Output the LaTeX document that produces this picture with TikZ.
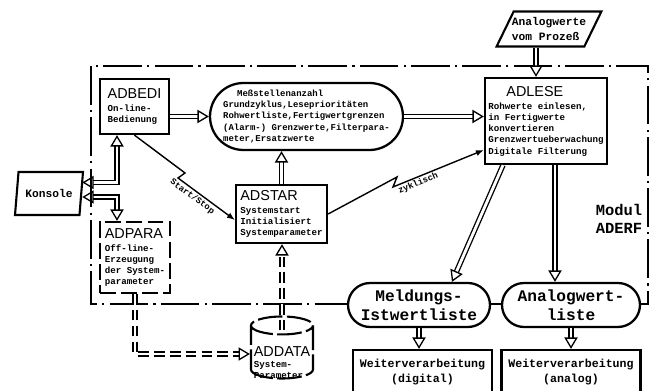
\documentclass[tikz,border=0pt]{standalone}
\usepackage{fontspec}
\setmainfont{Liberation Sans}
\setmonofont{Liberation Mono}
\usetikzlibrary{shapes.geometric, arrows.meta}

\newcommand{\tname}[1]{{\rmfamily\mdseries\fontsize{8.2}{9}\selectfont #1}}

\begin{document}
\begin{tikzpicture}[x=0.02cm, y=-0.02cm]
    \useasboundingbox (0,0) rectangle (650,391);
    % Define styles
    \tikzstyle{prog} = [rectangle, draw, line width=1.3pt, inner sep=1.5pt, align=left, font=\ttfamily\bfseries\fontsize{5.2}{6.4}\selectfont]
    \tikzstyle{params} = [rectangle, draw, line width=1.3pt, rounded corners=0.67cm, fill=white, align=left, minimum width=3.86cm, minimum height=1.34cm, font=\ttfamily\bfseries\fontsize{5.1}{6.5}\selectfont]
    \tikzstyle{liste} = [rectangle, draw, line width=1.3pt, rounded corners=0.44cm, fill=white, align=center, minimum height=0.88cm, font=\ttfamily\bfseries\fontsize{9.2}{10.8}\selectfont]
    \tikzstyle{store} = [cylinder, shape border rotate=90, aspect=0.3, draw, line width=1.2pt, dash pattern=on 14pt off 2.5pt, minimum height=1.24cm, minimum width=1.24cm, inner sep=1pt, font=\ttfamily\bfseries\fontsize{5.2}{6.4}\selectfont]
    \tikzstyle{extern} = [trapezium, draw, line width=1.2pt, trapezium stretches body, inner xsep=-1pt, align=left, font=\ttfamily\bfseries\fontsize{6.4}{8.5}\selectfont]
    \tikzstyle{result} = [rectangle, draw, line width=1.3pt, align=center, minimum width=2.78cm, minimum height=0.88cm, font=\ttfamily\bfseries\fontsize{6.6}{8.5}\selectfont]
    \tikzstyle{flow} = [double, double distance=1.6pt, line width=0.75pt, -{Triangle[open, length=6.5pt, width=7.5pt]}]
    \tikzstyle{flowboth} = [double, double distance=1.6pt, line width=0.75pt, {Triangle[open, length=6.5pt, width=7.5pt]}-{Triangle[open, length=6.5pt, width=7.5pt]}]
    \tikzstyle{signal} = [line width=0.8pt, -{Latex[length=4.5pt, width=3.5pt]}]
    \tikzstyle{lbl} = [inner sep=1pt, font=\ttfamily\bfseries\fontsize{5}{6}\selectfont]
    \tikzstyle{module} = [line width=0.8pt, dash pattern=on 22pt off 3pt on 1.2pt off 3pt]

    % Modul boundary
    \draw[module] (91,66) rectangle (648,304);

    % Program modules
    \node[prog, minimum width=1.38cm, minimum height=1.10cm] (adbedi) at (134.5,106.5) {\tname{ADBEDI}\\[1pt] On-line-\\ Bedienung};
    \node[prog, minimum width=2.44cm, minimum height=1.72cm] (adlese) at (546,121) {\hspace*{0.36cm}\tname{ADLESE}\\[1pt] Rohwerte einlesen,\\ in Fertigwerte\\ konvertieren\\ Grenzwertueberwachung\\ Digitale Filterung};
    \node[prog, minimum width=1.82cm, minimum height=1.16cm] (adstar) at (281.5,214) {\tname{ADSTAR}\\[1pt] Systemstart\\ Initialisiert\\ Systemparameter};
    \node[prog, dash pattern=on 9pt off 3pt, minimum width=1.40cm, minimum height=1.42cm] (adpara) at (135,257.5) {\tname{ADPARA}\\[1pt] Off-line-\\ Erzeugung\\ der System-\\ parameter};
    \node[store] (addata) at (282,354) {\raisebox{-7pt}[0pt][0pt]{\begin{tabular}{@{}l@{}}\tname{ADDATA}\\ System-\\ Parameter\end{tabular}}};

    % Data
    \node[params] (params) at (306.5,116.5) {\hspace*{8pt}Meßstellenanzahl\\ Grundzyklus,Leseprioritäten\\ Rohwertliste,Fertigwertgrenzen\\ (Alarm-) Grenzwerte,Filterpara-\\ meter,Ersatzwerte};
    \node[liste, minimum width=2.84cm] (meldung) at (419,305) {Meldungs-\\Istwertliste};
    \node[liste, minimum width=2.76cm] (analist) at (571,305) {Analogwert-\\liste};

    % Outside
    \node[extern, trapezium left angle=64, trapezium right angle=116, minimum width=1.96cm, minimum height=0.64cm] (prozess) at (549,29) {Analogwerte\\vom Prozeß};
    \node[extern, trapezium left angle=80, trapezium right angle=100, minimum width=1.36cm, minimum height=0.86cm] (konsole) at (49,193.5) {Konsole};
    \node[result] (wdig) at (422.5,372) {Weiterverarbeitung\\(digital)};
    \node[result] (wana) at (571,372) {Weiterverarbeitung\\(analog)};
    \node[align=left, font=\ttfamily\bfseries\fontsize{8.8}{10.5}\selectfont] (modul) at (619,219) {Modul\\ADERF};

    % Data flows
    \draw[flow] (adbedi.east |- params.west) -- (params.west);
    \draw[flow] (params.east) -- (params.east -| adlese.west);
    \draw[flow] ([xshift=-0.26cm]prozess.south) -- ([xshift=-0.26cm]prozess.south |- adlese.north);
    \draw[flow] (adstar.north) -- (adstar.north |- params.south);
    \draw[flow, dash pattern=on 6pt off 3pt] ([yshift=-0.3cm]addata.north) -- (addata.north |- adstar.south);
    \draw[flow, dash pattern=on 6pt off 3pt] (adpara.south) |- (addata.west);
    \draw[flowboth] ([xshift=-0.35cm]adbedi.south) |- ([yshift=0.22cm]konsole.east);
    \draw[flowboth] ([yshift=-0.07cm]konsole.east) -| ([xshift=-0.36cm]adpara.north);
    \draw[flow] ([xshift=-0.86cm]adlese.south) -- ([xshift=0.66cm]meldung.north);
    \draw[flow] ([xshift=0.18cm]adlese.south) -- ([xshift=0.18cm]adlese.south |- analist.north);
    \draw[flow] (meldung.south) -- (meldung.south |- wdig.north);
    \draw[flow] (analist.south) -- (analist.south |- wana.north);

    % Signals
    \draw[signal] (adbedi.south) -- (185,173) -- (178,178) -- node[lbl, sloped, below, pos=0.32] {Start/Stop} ([yshift=-0.12cm]adstar.west);
    \draw[signal] (adstar.east) -- (397,177) -- (393,187) -- node[lbl, sloped, below, pos=0.25] {zyklisch} ([yshift=-0.58cm]adlese.west);
\end{tikzpicture}
\end{document}
